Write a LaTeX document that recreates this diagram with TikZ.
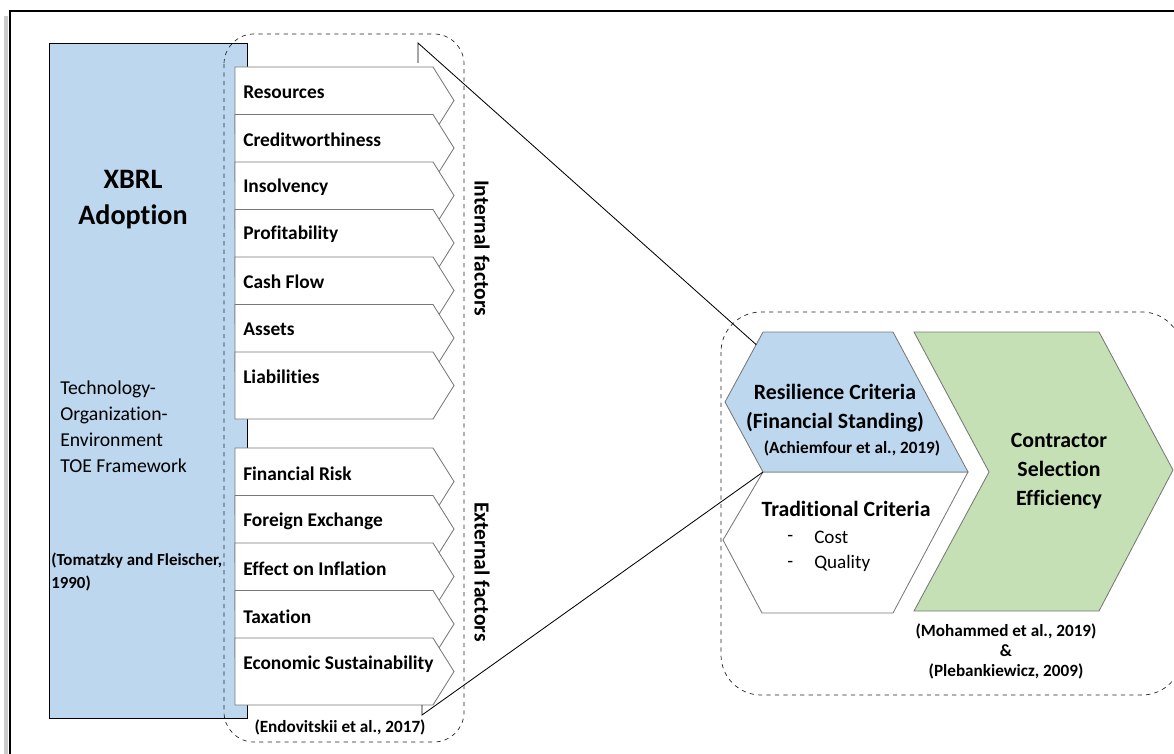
\documentclass[tikz,border=0pt]{standalone}
\usepackage{fontspec}
\setmainfont{Carlito}[Ligatures=NoCommon]
\usetikzlibrary{calc}

\definecolor{xbrlblue}{RGB}{189,215,238}
\definecolor{selgreen}{RGB}{197,224,180}
\definecolor{edgegray}{RGB}{120,120,120}

\begin{document}
\begin{tikzpicture}[x=0.025cm,y=-0.025cm,
factorbox/.style={draw=edgegray, fill=white, line width=0.6pt},
factortext/.style={anchor=west, inner sep=0pt, font=\bfseries\fontsize{13.8}{16}\selectfont},
sidetext/.style={rotate=-90, inner sep=0pt, font=\bfseries\fontsize{15.3}{18}\selectfont},
citetext/.style={inner sep=0pt, align=center, font=\bfseries\fontsize{12.2}{14.2}\selectfont},
groupbox/.style={draw=black!85, dashed, line width=0.5pt},
hexbox/.style={draw=edgegray, line width=0.6pt},
headtext/.style={inner sep=0pt, align=center, font=\bfseries\fontsize{15.5}{20.6}\selectfont},
itemtext/.style={inner sep=0pt, anchor=west, font=\fontsize{13.6}{16}\selectfont},
link/.style={draw=black, line width=0.6pt},
]
\useasboundingbox (0,0) rectangle (1174,754);
\clip (0,0) rectangle (1174,754);

% frame
\draw[black!20, line width=3pt] (6,16) -- (6,760);
\draw[line width=1.6pt] (10,11) rectangle (1200,780);

% left: XBRL adoption
\draw[fill=xbrlblue, line width=0.6pt] (49,43) rectangle (247,718);
\node[inner sep=0pt, align=center, font=\bfseries\fontsize{20}{25.5}\selectfont] (xbrl) at (133,200) {XBRL\\Adoption};
\node[inner sep=0pt, anchor=west, align=left, font=\fontsize{14}{18.4}\selectfont] (toe) at (60,427) {Technology-\\Organization-\\Environment\\TOE Framework};
\node[citetext, anchor=west, align=left, font=\bfseries\fontsize{12}{16}\selectfont] (tomatzky) at (51,572) {(Tomatzky and Fleischer,\\1990)};

\draw[groupbox, rounded corners=0.75cm] (224,34) rectangle (464,742);

% internal factors
\foreach \lbl [count=\i from 0] in {Resources,Creditworthiness,Insolvency,Profitability,Cash Flow,Assets,Liabilities}{
  \pgfmathsetmacro\ty{67+47.5*\i}
  \draw[factorbox] (235,\ty) -- (433,\ty) -- (454,\ty+33.5) -- (433,\ty+67) -- (235,\ty+67) -- cycle;
  \node[factortext] (in\i) at (243,\ty+25) {\lbl};
}
% external factors
\foreach \lbl [count=\i from 0] in {Financial Risk,Foreign Exchange,Effect on Inflation,Taxation,Economic Sustainability}{
  \pgfmathsetmacro\ty{448+47.5*\i}
  \draw[factorbox] (235,\ty) -- (433,\ty) -- (454,\ty+33.5) -- (433,\ty+67) -- (235,\ty+67) -- cycle;
  \node[factortext] (ex\i) at (243,\ty+26) {\lbl};
}

\node[sidetext] (internal) at (482,248) {Internal factors};
\node[sidetext] (external) at (482,572) {External factors};
\node[citetext] (endovitskii) at (340,727) {(Endovitskii et al., 2017)};

% right: criteria and efficiency
\draw[groupbox, rounded corners=1cm] (721,312) rectangle (1182,695);

\coordinate (resTL) at (763,332);
\coordinate (resTR) at (893,332);
\coordinate (resR) at (968,472);
\coordinate (resBL) at (763,472);
\coordinate (resL) at (725,402);

\draw[hexbox, fill=white] (resBL) -- (resR) -- (893,613) -- (762,613) -- (723,540) -- cycle;
\draw[hexbox, fill=xbrlblue] (resTL) -- (resTR) -- (resR) -- (resBL) -- (resL) -- cycle;
\draw[hexbox, fill=selgreen] (914,332) -- (1099,332) -- (1173,470) -- (1099,611) -- (914,611) -- (989,472) -- cycle;

\node[headtext] (resilience) at (835,408) {Resilience Criteria\\(Financial Standing)};
\node[citetext] (achiemfour) at (852,448) {(Achiemfour et al., 2019)};
\node[headtext] (traditional) at (846,509) {Traditional Criteria};
\node[itemtext] (dash1) at (787,538) {-};
\node[itemtext] (cost) at (814,537) {Cost};
\node[itemtext] (dash2) at (787,564) {-};
\node[itemtext] (quality) at (814,563) {Quality};

\node[headtext] (efficiency) at (1059,471) {Contractor\\Selection\\Efficiency};
\node[citetext] (mohammed) at (1006,651) {(Mohammed et al., 2019)\\\&\\(Plebankiewicz, 2009)};

% connectors
\coordinate (intTick) at (418,63);
\coordinate (extTick) at (422,705);
\draw[link] (intTick) -- ++(0,-20) -- ($(resL)!0.82!(resTL)$);
\draw[link] (extTick) -- ++(0,10) -- (resBL);
\end{tikzpicture}
\end{document}
